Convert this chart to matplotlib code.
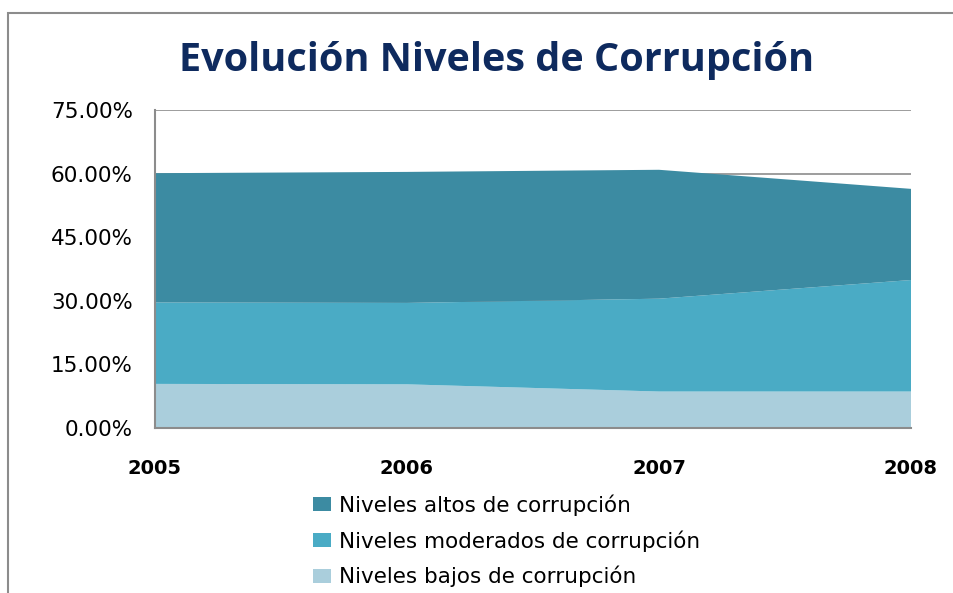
import matplotlib.pyplot as plt
from matplotlib.patches import Rectangle
import matplotlib.ticker as ticker

years = ["2005", "2006", "2007", "2008"]
bajos = [10.4, 10.3, 8.6, 8.6]
moderados = [19.2, 19.2, 21.9, 26.3]
altos = [30.5, 30.9, 30.4, 21.5]

labels = ["Niveles bajos de corrupción", "Niveles moderados de corrupción", "Niveles altos de corrupción"]
colors = ["#aacedc", "#4aabc5", "#3c8ba2"]

fig = plt.figure(figsize=(9.54, 5.93), dpi=100)
ax = fig.add_axes([155 / 954, 1 - 428 / 593, (911 - 155) / 954, (428 - 110) / 593])

# outer chart frame (cropped on right and bottom)
fig.patches.append(Rectangle((8 / 954, -0.1), 1.5, 1.1 - 13 / 593, transform=fig.transFigure,
                             fill=False, edgecolor="#8c8c8c", linewidth=1.5))

x = range(len(years))
polys = ax.stackplot(x, bajos, moderados, altos, colors=colors, labels=labels, linewidth=0)

ax.set_xlim(0, len(years) - 1)
ax.set_ylim(0, 75)
ax.set_yticks([0, 15, 30, 45, 60, 75])
ax.yaxis.set_major_formatter(ticker.FuncFormatter(lambda v, p: f"{v:.2f}%"))
ax.set_xticks(list(x))
ax.set_xticklabels(years, fontweight="bold")
ax.grid(axis="y", color="#8c8c8c", linewidth=1.2, zorder=0)
ax.set_axisbelow(True)
ax.tick_params(axis="both", length=0)
ax.tick_params(axis="x", pad=22, labelsize=14)
ax.tick_params(axis="y", pad=16, labelsize=15.5)
for s in ["top", "right"]:
    ax.spines[s].set_visible(False)
for s in ["left", "bottom"]:
    ax.spines[s].set_color("#8c8c8c")
    ax.spines[s].set_linewidth(1.5)

fig.text(497 / 954, 1 - 61 / 593, "Evolución Niveles de Corrupción", ha="center", va="center",
         fontsize=28.5, fontweight="bold", color="#0e2a5e", family="Open Sans")

handles, lbls = ax.get_legend_handles_labels()
fig.legend(handles[::-1], lbls[::-1], loc="upper left", bbox_to_anchor=(294 / 954, 1 - 475 / 593),
           frameon=False, fontsize=15.5, handlelength=0.8, handleheight=0.65, handletextpad=0.4,
           labelspacing=0.66)

plt.savefig("out.png")
